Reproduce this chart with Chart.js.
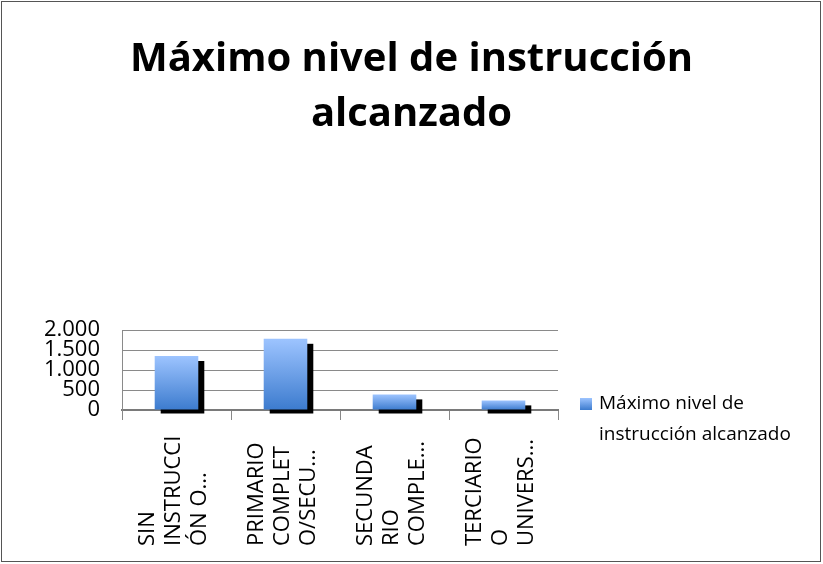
<!DOCTYPE html>
<html lang="es">
<head>
    <meta charset="UTF-8">
    <title>Máximo nivel de instrucción alcanzado</title>
    <script src="https://cdn.jsdelivr.net/npm/chart.js"></script>
    <style>
        body { margin: 0; background: #ffffff; }
        .wrap { position: relative; width: 823px; height: 564px; }
    </style>
</head>
<body>
    <div class="wrap">
        <canvas id="eduChart" width="823" height="564"></canvas>
    </div>
    <script>
        // Chart data
        const categories = [
            ['SIN', 'INSTRUCCI', 'ÓN O...'],
            ['PRIMARIO', 'COMPLET', 'O/SECU...'],
            ['SECUNDA', 'RIO', 'COMPLE...'],
            ['TERCIARIO', 'O', 'UNIVERS...']
        ];
        const values = [1350, 1780, 390, 240];
        const yTickLabels = ['0', '500', '1.000', '1.500', '2.000'];
        const seriesLabel = 'Máximo nivel de instrucción alcanzado';
        const legendLines = ['Máximo nivel de', 'instrucción alcanzado'];
        const titleLines = ['Máximo nivel de instrucción', 'alcanzado'];

        const FONT = '"Open Sans", sans-serif';

        // fills each bar with a light-to-dark vertical gradient
        function barGradient(ctx) {
            const chart = ctx.chart;
            const y = chart.scales.y;
            if (!chart.chartArea || !y) return '#6b9ee8';
            const top = y.getPixelForValue(ctx.raw);
            const bottom = y.getPixelForValue(0);
            const g = chart.ctx.createLinearGradient(0, top, 0, bottom);
            g.addColorStop(0, '#9dc4ff');
            g.addColorStop(1, '#3c7bce');
            return g;
        }

        // white background + frame
        const framePlugin = {
            id: 'frame',
            beforeDraw(chart) {
                const c = chart.ctx;
                c.save();
                c.fillStyle = '#ffffff';
                c.fillRect(0, 0, chart.width, chart.height);
                c.strokeStyle = '#555555';
                c.lineWidth = 1;
                c.strokeRect(1.5, 1.5, chart.width - 4, chart.height - 4);
                c.restore();
            }
        };

        // black drop shadow behind bars
        const shadowPlugin = {
            id: 'barShadow',
            beforeDatasetsDraw(chart) {
                const c = chart.ctx;
                const meta = chart.getDatasetMeta(0);
                c.save();
                c.fillStyle = '#000000';
                meta.data.forEach(bar => {
                    const w = bar.width;
                    c.fillRect(bar.x - w / 2 + 6, bar.y + 5, w, bar.base - bar.y - 1);
                });
                c.restore();
            }
        };

        // rotated category labels (start at the bottom) and the legend
        const labelsPlugin = {
            id: 'labelsLegend',
            afterDraw(chart) {
                const c = chart.ctx;
                const xs = chart.scales.x;
                c.save();
                c.fillStyle = '#000000';
                c.font = '22px ' + FONT;
                c.textAlign = 'left';
                c.textBaseline = 'middle';
                categories.forEach((lines, i) => {
                    const cx = xs.getPixelForValue(i) - 3;
                    lines.forEach((txt, j) => {
                        const x = cx + (j - (lines.length - 1) / 2) * 26;
                        c.save();
                        c.translate(x, 546);
                        c.rotate(-Math.PI / 2);
                        c.fillText(txt, 0, 0);
                        c.restore();
                    });
                });

                // legend
                const lx = 580, ly = 398;
                const g = c.createLinearGradient(0, ly, 0, ly + 12);
                g.addColorStop(0, '#9dc4ff');
                g.addColorStop(1, '#3c7bce');
                c.fillStyle = g;
                c.fillRect(lx, ly, 12, 12);
                c.fillStyle = '#000000';
                c.font = '19px ' + FONT;
                c.textBaseline = 'middle';
                c.fillText(legendLines[0], lx + 19, ly + 6);
                c.fillText(legendLines[1], lx + 19, ly + 37);
                c.restore();
            }
        };

        const ctx = document.getElementById('eduChart').getContext('2d');
        const eduChart = new Chart(ctx, {
            type: 'bar',
            data: {
                labels: categories.map(l => l.join(' ')),
                datasets: [{
                    label: seriesLabel,
                    data: values,
                    backgroundColor: barGradient,
                    barPercentage: 0.4,
                    categoryPercentage: 1.0
                }]
            },
            options: {
                responsive: false,
                animation: false,
                layout: { padding: { left: 0, right: 0, top: 0, bottom: 144 } },
                scales: {
                    x: {
                        offset: true,
                        grid: {
                            drawOnChartArea: false,
                            tickLength: 10,
                            color: '#888888'
                        },
                        border: { color: '#7a7a7a', width: 2 },
                        ticks: { display: false },
                        afterFit: s => { s.height = 10; }
                    },
                    y: {
                        min: 0,
                        max: 2000,
                        ticks: {
                            stepSize: 500,
                            autoSkip: false,
                            padding: 22,
                            color: '#000000',
                            font: { family: FONT, size: 22, lineHeight: 0.9 },
                            callback: (v, i) => yTickLabels[i]
                        },
                        grid: { color: '#8a8a8a', drawTicks: false },
                        border: { color: '#8a8a8a' },
                        afterFit: s => { s.width = 122; }
                    },
                    side: {
                        position: 'right',
                        display: true,
                        ticks: { display: false },
                        grid: { display: false },
                        border: { display: false },
                        afterFit: s => { s.width = 265; }
                    }
                },
                plugins: {
                    legend: { display: false },
                    tooltip: { enabled: false },
                    title: {
                        display: true,
                        text: titleLines,
                        color: '#000000',
                        font: { family: FONT, size: 40, weight: 'bold', lineHeight: 1.375 },
                        padding: { top: 32, bottom: 188 }
                    }
                }
            },
            plugins: [framePlugin, shadowPlugin, labelsPlugin]
        });
    </script>
</body>
</html>
